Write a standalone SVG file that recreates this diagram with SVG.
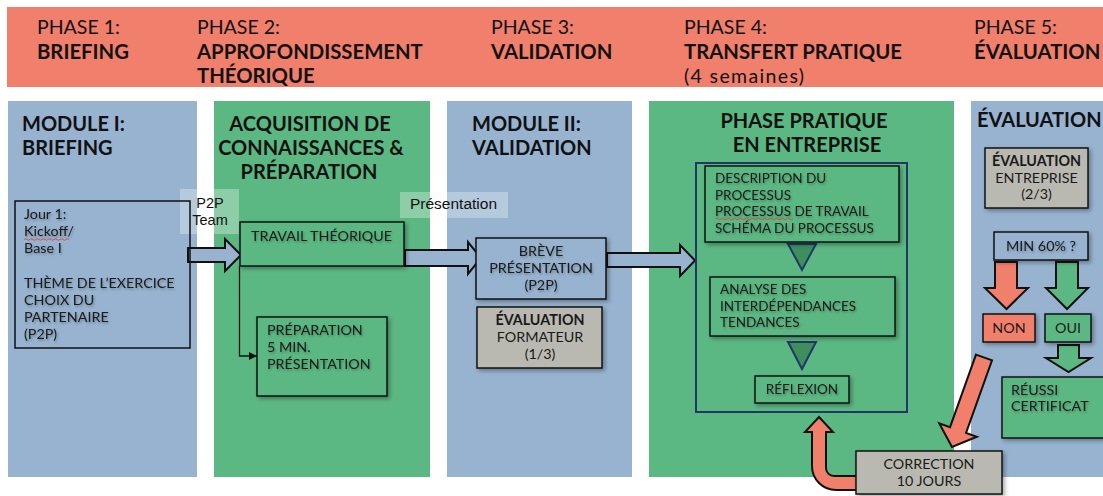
<svg xmlns="http://www.w3.org/2000/svg" width="1103" height="496" viewBox="0 0 1103 496">
<defs>
<style>
.hd{font-family:Lato,"Noto Sans","Liberation Sans",sans-serif;font-size:19.5px;fill:#111}
.hb{font-weight:bold;font-size:20.3px}
.ct{font-family:Lato,"Noto Sans","Liberation Sans",sans-serif;font-size:20px;font-weight:bold;fill:#111}
.tx{font-family:Lato,"Noto Sans","Liberation Sans",sans-serif;font-size:14.3px;fill:#1a1a1a}
.sm{font-family:Lato,"Noto Sans","Liberation Sans",sans-serif;font-size:13.5px;fill:#1a1a1a}
.lb{font-family:"Liberation Sans",Arial,sans-serif;font-size:14.5px;fill:#111}
.blue{fill:#97B3CF}
.green{fill:#5CB883}
.box{stroke:#111;stroke-width:1.5}
.gray{fill:#B9B9B1;stroke:#111;stroke-width:1.5}
.barrow{fill:#97B3CF;stroke:#111;stroke-width:2;stroke-linejoin:miter}
.rarrow{fill:#F07F6C;stroke:#111;stroke-width:2}
.garrow{fill:#5CB883;stroke:#111;stroke-width:2}
.tri{fill:#3E8E5E;stroke:#1F3864;stroke-width:2}
.squig{fill:none;stroke:#E04040;stroke-width:0.9}
.mid{text-anchor:middle}
</style>
<filter id="sh" x="-10%" y="-10%" width="130%" height="140%">
<feDropShadow dx="2" dy="2" stdDeviation="2" flood-color="#000" flood-opacity="0.35"/>
</filter>
<filter id="ts" x="-5%" y="-20%" width="115%" height="150%">
<feDropShadow dx="1" dy="1.5" stdDeviation="1.2" flood-color="#000" flood-opacity="0.3"/>
</filter>
<marker id="ah" markerWidth="10" markerHeight="10" refX="8" refY="4" orient="auto" markerUnits="userSpaceOnUse">
<path d="M0,0 L8,4 L0,8 Z" fill="#111"/>
</marker>
</defs>

<!-- header band -->
<g id="header">
<rect x="7" y="7" width="1096" height="80" fill="#F07F6C"/>
<text class="hd" x="37" y="34">PHASE 1:</text>
<text class="hd hb" x="37" y="59">BRIEFING</text>
<text class="hd" x="197" y="34">PHASE 2:</text>
<text class="hd hb" x="197" y="59">APPROFONDISSEMENT</text>
<text class="hd hb" x="197" y="83">THÉORIQUE</text>
<text class="hd" x="491" y="34">PHASE 3:</text>
<text class="hd hb" x="491" y="59">VALIDATION</text>
<text class="hd" x="684" y="34">PHASE 4:</text>
<text class="hd hb" x="684" y="59">TRANSFERT PRATIQUE</text>
<text class="hd" x="684" y="83" textLength="120" lengthAdjust="spacing">(4 semaines)</text>
<text class="hd" x="974" y="34">PHASE 5:</text>
<text class="hd hb" x="974" y="59">ÉVALUATION</text>
</g>

<!-- columns -->
<g id="col1">
<rect class="blue" x="8" y="101" width="189" height="376"/>
<text class="ct" x="22" y="131">MODULE I:</text>
<text class="ct" x="22" y="155">BRIEFING</text>
</g>
<g id="col2">
<rect class="green" x="214" y="101" width="216" height="376"/>
<text class="ct mid" x="310" y="131">ACQUISITION DE</text>
<text class="ct mid" x="311" y="155">CONNAISSANCES &amp;</text>
<text class="ct mid" x="309" y="179">PRÉPARATION</text>
</g>
<g id="col3">
<rect class="blue" x="447" y="101" width="185" height="376"/>
<text class="ct" x="472" y="131">MODULE II:</text>
<text class="ct" x="472" y="155">VALIDATION</text>
</g>
<g id="col4">
<rect class="green" x="649" y="101" width="305" height="376"/>
<text class="ct mid" x="804" y="128">PHASE PRATIQUE</text>
<text class="ct mid" x="807" y="152">EN ENTREPRISE</text>
</g>
<g id="col5">
<rect class="blue" x="971" y="101" width="132" height="376"/>
<text class="ct" x="977" y="127">ÉVALUATION</text>
</g>

<!-- connectors -->
<g id="connectors">
<polygon class="barrow" points="188,248 225,248 225,239 241,255 225,271 225,262 188,262"/>
<polygon class="barrow" points="405,250 468,250 468,242 481,258 468,274 468,266 405,266"/>
<polygon class="barrow" points="607,253 680,253 680,245 695,260.5 680,276 680,267 607,267"/>
<path d="M239.5,266 V356 H257" fill="none" stroke="#111" stroke-width="1.3" marker-end="url(#ah)"/>
<polygon class="tri" points="788,244 816,244 802,270"/>
<polygon class="tri" points="788,342 816,342 802,369"/>
<path class="rarrow" d="M857,476 H834 A8,8 0 0 1 826,468 V432 H833 L819,417 L805,432 H812 V466 A24,24 0 0 0 836,490 H857 Z"/>
<polygon class="rarrow" transform="translate(984,357.5) rotate(19.7)" points="-8.5,0 8.5,0 8.5,77 20,77 0,95 -20,77 -8.5,77"/>
<polygon class="rarrow" points="995,262 1017,262 1017,288 1028,288 1006.5,309 985,288 995,288"/>
<polygon class="garrow" points="1056,262 1078,262 1078,288 1088,288 1067,309 1046,288 1056,288"/>
<polygon class="garrow" points="1058,345 1079,345 1079,358 1091,358 1068.5,372 1046,358 1058,358"/>
</g>

<!-- labels on connectors -->
<g id="label-p2p">
<rect x="180" y="189" width="59" height="45" fill="#fff" fill-opacity="0.3"/>
<text class="lb mid" x="210" y="208">P2P</text>
<text class="lb mid" x="210" y="225">Team</text>
</g>
<g id="label-presentation">
<rect x="400" y="192" width="108" height="26" fill="#fff" fill-opacity="0.3"/>
<text class="lb" x="410" y="209" style="font-size:15.5px">Présentation</text>
</g>

<!-- nodes -->
<g id="jour1">
<rect class="box" x="15" y="201" width="175" height="147" fill="none"/>
<g filter="url(#ts)">
<text class="tx" x="24" y="219">Jour 1:</text>
<text class="tx" x="24" y="236">Kickoff/</text>
<text class="tx" x="24" y="253">Base I</text>
<text class="tx" x="24" y="288">THÈME DE L’EXERCICE</text>
<text class="tx" x="24" y="305">CHOIX DU</text>
<text class="tx" x="24" y="322">PARTENAIRE</text>
<text class="tx" x="24" y="339">(P2P)</text>
</g>
<path class="squig" d="M24,239.5 q1.5,-1.5 3,0 t3,0 t3,0 t3,0 t3,0 t3,0 t3,0 t3,0 t3,0 t3,0 t3,0 t3,0 t3,0 t3,0 t3,0"/>
</g>

<g id="travail">
<rect class="box" x="240" y="222" width="164" height="44" fill="#5CB883" filter="url(#sh)"/>
<text class="tx" x="251" y="241" filter="url(#ts)">TRAVAIL THÉORIQUE</text>
</g>

<g id="preparation">
<rect class="box" x="257" y="317" width="130" height="79" fill="#5CB883" filter="url(#sh)"/>
<g filter="url(#ts)">
<text class="tx" x="267" y="335">PRÉPARATION</text>
<text class="tx" x="267" y="352">5 MIN.</text>
<text class="tx" x="267" y="369">PRÉSENTATION</text>
</g>
</g>

<g id="breve">
<rect class="box" x="476" y="238" width="130" height="61" fill="#97B3CF" filter="url(#sh)"/>
<g filter="url(#ts)">
<text class="tx mid" x="541" y="256">BRÈVE</text>
<text class="tx mid" x="541" y="273">PRÉSENTATION</text>
<text class="tx mid" x="541" y="290">(P2P)</text>
</g>
</g>

<g id="eval-formateur">
<rect class="gray" x="477" y="307" width="125" height="61" filter="url(#sh)"/>
<text class="tx mid" x="540" y="325" font-weight="bold">ÉVALUATION</text>
<text class="tx mid" x="540" y="342">FORMATEUR</text>
<text class="tx mid" x="540" y="359">(1/3)</text>
</g>

<g id="phase-pratique">
<rect x="696" y="163" width="211" height="249" fill="none" stroke="#1F3864" stroke-width="2"/>
</g>

<g id="description">
<rect class="box" x="705" y="166" width="194" height="76" fill="#5CB883" filter="url(#sh)"/>
<g filter="url(#ts)">
<text class="sm" x="715" y="183">DESCRIPTION DU</text>
<text class="sm" x="715" y="199.5">PROCESSUS</text>
<text class="sm" x="715" y="216">PROCESSUS DE TRAVAIL</text>
<text class="sm" x="715" y="232.5">SCHÉMA DU PROCESSUS</text>
</g>
<path class="squig" d="M715,219 q1.5,-1.5 3,0 t3,0 t3,0 t3,0 t3,0 t3,0 t3,0 t3,0 t3,0 t3,0 t3,0 t3,0 t3,0 t3,0 t3,0 t3,0 t3,0 t3,0 t3,0 t3,0 t3,0 t3,0 t3,0 t3,0 t3,0 t3,0"/>
</g>

<g id="analyse">
<rect class="box" x="710" y="277" width="185" height="59" fill="#5CB883" filter="url(#sh)"/>
<g filter="url(#ts)">
<text class="sm" x="720" y="294">ANALYSE DES</text>
<text class="sm" x="720" y="310.5">INTERDÉPENDANCES</text>
<text class="sm" x="720" y="327">TENDANCES</text>
</g>
</g>

<g id="reflexion">
<rect class="box" x="755" y="376" width="94" height="27" fill="#5CB883" filter="url(#sh)"/>
<text class="sm mid" x="802" y="394" filter="url(#ts)">RÉFLEXION</text>
</g>

<g id="correction">
<rect class="gray" x="856" y="451" width="146" height="43" filter="url(#sh)"/>
<text class="tx mid" x="929" y="469">CORRECTION</text>
<text class="tx mid" x="929" y="486">10 JOURS</text>
</g>

<g id="eval-entreprise">
<rect class="gray" x="985" y="148" width="103" height="60" filter="url(#sh)"/>
<text class="tx mid" x="1036.5" y="166" font-weight="bold">ÉVALUATION</text>
<text class="tx mid" x="1036.5" y="183">ENTREPRISE</text>
<text class="tx mid" x="1036.5" y="199">(2/3)</text>
</g>

<g id="min60">
<rect class="box" x="994" y="232" width="94" height="28" fill="#97B3CF" filter="url(#sh)"/>
<text class="tx mid" x="1041" y="251" filter="url(#ts)">MIN 60% ?</text>
</g>

<g id="non">
<rect class="box" x="983" y="314" width="52" height="28" fill="#F07F6C" filter="url(#sh)"/>
<text class="tx mid" x="1009" y="333">NON</text>
</g>

<g id="oui">
<rect class="box" x="1045" y="314" width="46" height="28" fill="#5CB883" filter="url(#sh)"/>
<text class="tx mid" x="1068" y="333">OUI</text>
</g>

<g id="reussi">
<rect class="box" x="1002" y="377" width="110" height="61" fill="#5CB883" filter="url(#sh)"/>
<g filter="url(#ts)">
<text class="tx" x="1011" y="395">RÉUSSI</text>
<text class="tx" x="1011" y="411">CERTIFICAT</text>
</g>
</g>
</svg>
